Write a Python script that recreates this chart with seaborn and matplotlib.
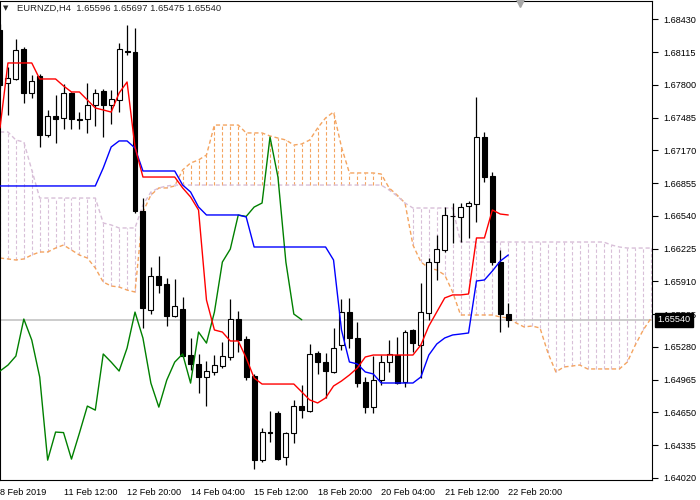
import numpy as np
import pandas as pd
import matplotlib.pyplot as plt
import matplotlib.transforms as mtransforms
import seaborn as sns

# EURNZD H4 candles (bar 0 = 8 Feb 2019)
opens = [1.68327, 1.67817, 1.67856, 1.68144, 1.67722, 1.67885, 1.67317, 1.67500, 1.67481, 1.67722,
         1.67471, 1.67471, 1.67606, 1.67741, 1.67606, 1.67654, 1.68125, 1.68115, 1.66586, 1.65633,
         1.65961, 1.65884, 1.65576, 1.65643, 1.65201, 1.65114, 1.64989, 1.65037, 1.65095, 1.65182,
         1.65547, 1.65355, 1.64999, 1.64190, 1.64460, 1.64642, 1.64219, 1.64450, 1.64710, 1.64662,
         1.65220, 1.65133, 1.65037, 1.65297, 1.65614, 1.65364, 1.64941, 1.64700, 1.64960, 1.65133,
         1.65201, 1.64941, 1.65441, 1.65297, 1.65605, 1.66095, 1.66211, 1.66538, 1.66528, 1.66634,
         1.66653, 1.67298, 1.66922, 1.66095, 1.65596]
highs = [1.68385, 1.67971, 1.68241, 1.68163, 1.67894, 1.67904, 1.67558, 1.67703, 1.67808, 1.67731,
         1.67539, 1.67817, 1.67760, 1.67760, 1.67750, 1.68202, 1.68375, 1.68346, 1.66711, 1.66047,
         1.66153, 1.65941, 1.65932, 1.65759, 1.65364, 1.65211, 1.65143, 1.65201, 1.65326, 1.65739,
         1.65624, 1.65383, 1.65018, 1.64498, 1.64662, 1.64662, 1.64460, 1.64768, 1.64912, 1.65307,
         1.65239, 1.65220, 1.65460, 1.65739, 1.65749, 1.65518, 1.64989, 1.65191, 1.65201, 1.65345,
         1.65374, 1.65441, 1.65450, 1.65893, 1.66134, 1.66355, 1.66624, 1.66663, 1.66663, 1.66682,
         1.67683, 1.67346, 1.66961, 1.66211, 1.65697]
lows = [1.67769, 1.67509, 1.67846, 1.67625, 1.67673, 1.67202, 1.67298, 1.67240, 1.67375, 1.67375,
        1.67375, 1.67336, 1.67404, 1.67298, 1.67423, 1.67539, 1.68087, 1.66567, 1.65460, 1.65595,
        1.65797, 1.65479, 1.65566, 1.65182, 1.65056, 1.64835, 1.64710, 1.65008, 1.65075, 1.65153,
        1.65230, 1.64960, 1.64104, 1.64171, 1.64363, 1.64190, 1.64142, 1.64354, 1.64594, 1.64652,
        1.65018, 1.64787, 1.65027, 1.65249, 1.65268, 1.64893, 1.64642, 1.64642, 1.64912, 1.65037,
        1.64922, 1.64893, 1.65230, 1.64979, 1.65537, 1.65922, 1.66191, 1.66278, 1.66288, 1.66326,
        1.66480, 1.66865, 1.66066, 1.65422, 1.65475]
closes = [1.67798, 1.67865, 1.68135, 1.67722, 1.67837, 1.67317, 1.67500, 1.67471, 1.67722, 1.67471,
          1.67466, 1.67606, 1.67722, 1.67606, 1.67664, 1.68144, 1.68120, 1.66586, 1.65653, 1.65961,
          1.65874, 1.65576, 1.65672, 1.65191, 1.65114, 1.64989, 1.65047, 1.65104, 1.65191, 1.65547,
          1.65345, 1.64989, 1.64190, 1.64460, 1.64455, 1.64200, 1.64450, 1.64710, 1.64671, 1.65211,
          1.65133, 1.65047, 1.65268, 1.65614, 1.65364, 1.64931, 1.64700, 1.64960, 1.65133, 1.65211,
          1.64931, 1.65422, 1.65316, 1.65614, 1.66095, 1.66220, 1.66547, 1.66534, 1.66624, 1.66663,
          1.67298, 1.66913, 1.66095, 1.65595, 1.65540]

# Ichimoku lines
tenkan = [1.67385, 1.68010, 1.68010, 1.68010, 1.68010, 1.67856, 1.67856, 1.67856, 1.67789, 1.67731,
          1.67731, 1.67654, 1.67577, 1.67558, 1.67538, 1.67721, 1.67827, 1.67202, 1.66913, 1.66913,
          1.66913, 1.66913, 1.66913, 1.66808, 1.66721, 1.66596, 1.65730, 1.65442, 1.65422, 1.65336,
          1.65336, 1.65173, 1.64980, 1.64922, 1.64922, 1.64922, 1.64922, 1.64922, 1.64846, 1.64769,
          1.64740, 1.64788, 1.64903, 1.64951, 1.65009, 1.65076, 1.65182, 1.65201, 1.65201, 1.65201,
          1.65201, 1.65201, 1.65201, 1.65298, 1.65480, 1.65615, 1.65750, 1.65779, 1.65779, 1.65788,
          1.66327, 1.66327, 1.66596, 1.66557, 1.66548]
kijun = ([1.66827] * 13 + [1.67000, 1.67202, 1.67260, 1.67260, 1.67192] + [1.66971] * 5
         + [1.66836, 1.66769, 1.66625] + [1.66548] * 5 + [1.66529] + [1.66240] * 10
         + [1.66115, 1.65442, 1.65134, 1.65115, 1.65038, 1.65019] + [1.64932] * 5
         + [1.64990, 1.65201, 1.65307, 1.65365, 1.65394, 1.65403, 1.65413,
            1.65913, 1.65923, 1.66009, 1.66105, 1.66163])
senkou_a = [1.66134, 1.66125, 1.66115, 1.66125, 1.66163, 1.66192, 1.66192, 1.66230, 1.66259, 1.66211,
            1.66163, 1.66134, 1.66038, 1.65903, 1.65865, 1.65855, 1.65826, 1.65807, 1.66577, 1.66740,
            1.66808, 1.66808, 1.66827, 1.66981, 1.67048, 1.67077, 1.67125, 1.67413, 1.67413, 1.67413,
            1.67413, 1.67337, 1.67337, 1.67337, 1.67308, 1.67288, 1.67269, 1.67221, 1.67231, 1.67269,
            1.67385, 1.67481, 1.67538, 1.67202, 1.66952, 1.66952, 1.66952, 1.66952, 1.66942, 1.66808,
            1.66740, 1.66663, 1.66259, 1.66096, 1.66038, 1.66019, 1.65971, 1.65807, 1.65586, 1.65586,
            1.65586, 1.65586, 1.65586, 1.65567, 1.65557, 1.65509, 1.65471, 1.65480, 1.65461, 1.65221,
            1.65038, 1.65086, 1.65095, 1.65105, 1.65067, 1.65067, 1.65067, 1.65067, 1.65067, 1.65134,
            1.65298, 1.65442, 1.65557]
senkou_b = ([1.67346, 1.67346, 1.67269, 1.67250, 1.66981] + [1.66711] * 8
            + [1.66471, 1.66452] + [1.66423] * 3 + [1.66644, 1.66769, 1.66808, 1.66827]
            + [1.66836] * 27 + [1.66788, 1.66731, 1.66663] + [1.66615] * 6
            + [1.66288] * 19 + [1.66259, 1.66240] + [1.66230] * 4)

xtick_bars = [0, 8, 16, 24, 32, 40, 48, 56, 64]
xtick_labels = ["8 Feb 2019", "11 Feb 12:00", "12 Feb 20:00", "14 Feb 04:00", "15 Feb 12:00",
                "18 Feb 20:00", "20 Feb 04:00", "21 Feb 12:00", "22 Feb 20:00"]
yticks = [1.64020, 1.64335, 1.64650, 1.64965, 1.65280, 1.65595, 1.65910, 1.66225,
          1.66540, 1.66855, 1.67170, 1.67485, 1.67800, 1.68115, 1.68430]
last_price = 1.65540

sns.set_style("white")
plt.rcParams['font.family'] = ['Liberation Sans', 'DejaVu Sans']

df = pd.DataFrame({"open": opens, "high": highs, "low": lows, "close": closes,
                   "tenkan": tenkan, "kijun": kijun})
df["bar"] = np.arange(len(df))
df["chikou"] = df["close"].shift(-26)
cloud = pd.DataFrame({"a": senkou_a, "b": senkou_b})
cloud["bar"] = np.arange(len(cloud))

fig = plt.figure(figsize=(7, 5), dpi=100)
ax = fig.add_axes([0.0, 0.04, 0.9314, 0.958])

# cloud hatch + borders
dash = (0, (3, 2))
up_cloud = cloud["a"] >= cloud["b"]
ax.vlines(cloud["bar"], cloud[["a", "b"]].min(axis=1), cloud[["a", "b"]].max(axis=1),
          colors=np.where(up_cloud, "#F4A460", "#D8BFD8"), linestyles=dash, lw=0.8, zorder=1)
sns.lineplot(data=cloud, x="bar", y="a", color="#F4A460", lw=1, linestyle=dash, ax=ax, zorder=2)
sns.lineplot(data=cloud, x="bar", y="b", color="#D8BFD8", lw=1, linestyle=dash, ax=ax, zorder=2)

# last price line
ax.axhline(last_price, color="#C8C8C8", lw=1.3, zorder=1.5)

# candles
bull = df["close"] >= df["open"]
body_lo = df[["open", "close"]].min(axis=1)
body_h = (df["close"] - df["open"]).abs().clip(lower=0.00003)
ax.vlines(df["bar"], df["low"], df["high"], color="black", lw=0.9, zorder=3)
ax.bar(df["bar"][bull], body_h[bull], bottom=body_lo[bull], width=0.62,
       color="white", edgecolor="black", lw=0.8, zorder=4)
ax.bar(df["bar"][~bull], body_h[~bull], bottom=body_lo[~bull], width=0.62,
       color="black", edgecolor="black", lw=0.8, zorder=4)

# ichimoku lines
sns.lineplot(data=df, x="bar", y="chikou", color="#008000", lw=1, ax=ax, zorder=5)
sns.lineplot(data=df, x="bar", y="kijun", color="#0000FF", lw=1, ax=ax, zorder=5)
sns.lineplot(data=df, x="bar", y="tenkan", color="#FF0000", lw=1, ax=ax, zorder=5)

ax.set_xlim(0, 82.1)
ax.set_ylim(1.63999, 1.68606)
ax.set_xlabel("")
ax.set_ylabel("")

ax.yaxis.tick_right()
ax.set_yticks(yticks)
ax.set_yticklabels([f"{v:.5f}" for v in yticks])
ax.set_xticks(xtick_bars)
ax.set_xticklabels(xtick_labels)
for lbl in ax.get_xticklabels():
    lbl.set_horizontalalignment("left")
ax.tick_params(axis="both", direction="out", length=4, width=0.8, colors="black",
               labelsize=6.6, pad=2)
ax.tick_params(axis="y", pad=4)
for s in ax.spines.values():
    s.set_color("black")
    s.set_linewidth(0.8)

# price tag
trans = mtransforms.blended_transform_factory(ax.transAxes, ax.transData)
ax.text(1.008, last_price, f"{last_price:.5f}", transform=trans, color="white",
        fontsize=6.6, va="center", ha="left", clip_on=False, zorder=10,
        bbox=dict(boxstyle="square,pad=0.25", fc="black", ec="black"))

# header and shift marker
fig.text(3 / 700, 1 - 8 / 500, "\u25bc", fontsize=5, family="DejaVu Sans", va="center")
fig.text(17 / 700, 1 - 8 / 500, "EURNZD,H4  1.65596 1.65697 1.65475 1.65540",
         fontsize=6.8, va="center")
ax.plot([65.5], [1.68606], marker="v", ms=9, color="#A8A8A8", clip_on=False, zorder=10)

fig.savefig("out.png", dpi=100)
